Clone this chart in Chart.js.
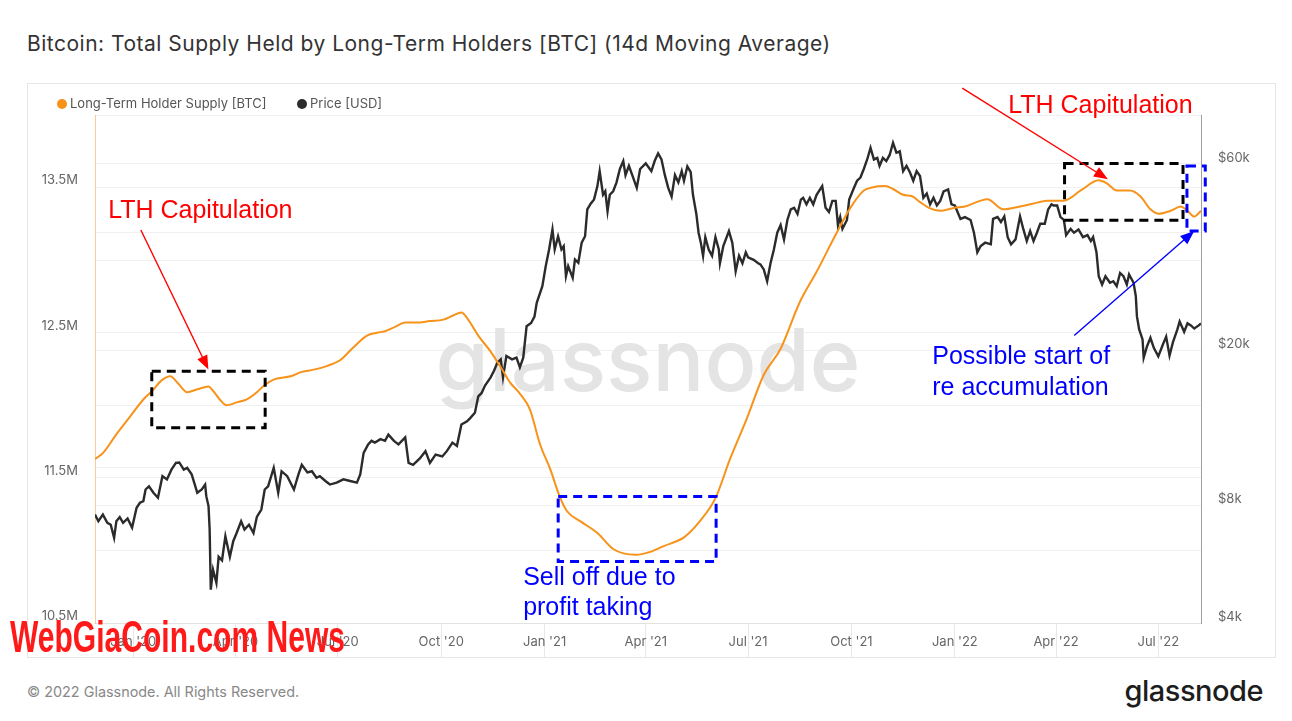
<!DOCTYPE html>
<html>
<head>
<meta charset="utf-8">
<script src="https://cdn.jsdelivr.net/npm/chart.js@4.4.1/dist/chart.umd.min.js"></script>
<style>
  html, body { margin: 0; padding: 0; background: #fff; }
  body { width: 1292px; height: 721px; position: relative; overflow: hidden; font-family: Inter, "Noto Sans", sans-serif; }
  .title { position: absolute; left: 27px; top: 31px; font-size: 21px; line-height: 26px; letter-spacing: 0.5px; color: #333; white-space: nowrap; }
  .card { position: absolute; left: 27px; top: 83px; width: 1247px; height: 573px; border: 1px solid #e6e6e6; }
  .card canvas { position: absolute; left: 0; top: 0; }
  .lg { position: absolute; top: 95px; font-size: 13px; line-height: 16px; color: #555; white-space: nowrap; }
  .dot { display: inline-block; width: 10px; height: 10px; border-radius: 50%; margin-right: 3px; vertical-align: -1px; }
  .foot { position: absolute; left: 27px; top: 683px; font-size: 14.4px; line-height: 18px; color: #888; }
  .logo { position: absolute; right: 29px; top: 673px; font-size: 29px; line-height: 36px; font-weight: 500; color: #1d1d1d; letter-spacing: -0.5px; }
  .stamp { position: absolute; left: 10px; top: 612px; font-family: "Liberation Sans Narrow", "Liberation Sans", sans-serif; font-weight: 700; font-size: 44px; line-height: 50px; color: #ff1a1a; white-space: nowrap; transform-origin: left center; }
</style>
</head>
<body>
<div class="title" id="title">Bitcoin: Total Supply Held by Long-Term Holders [BTC] (14d Moving Average)</div>
<div class="card"><canvas id="lthChart" width="1247" height="573"></canvas></div>
<div class="lg" style="left:57px"><span class="dot" style="background:#f7931a"></span>Long-Term Holder Supply [BTC]</div>
<div class="lg" style="left:297px"><span class="dot" style="background:#2b2b2b"></span>Price [USD]</div>
<div class="foot">© 2022 Glassnode. All Rights Reserved.</div>
<div class="logo">glassnode</div>
<div class="stamp" id="stamp">WebGiaCoin.com News</div>
<script>
// days counted from 1 Jan 2020
const tickDays = [0, 91, 182, 274, 366, 456, 547, 639, 731, 821, 912];
const tickLabels = ["Jan '20", "Apr '20", "Jul '20", "Oct '20", "Jan '21", "Apr '21", "Jul '21", "Oct '21", "Jan '22", "Apr '22", "Jul '22"];

const supplyTicks = [10.5, 11, 11.5, 12, 12.5, 13, 13.5, 14];
const supplyLabeled = [10.5, 11.5, 12.5, 13.5];
const priceTicks = [4000, 8000, 10000, 20000, 40000, 60000, 80000];
const priceLabeled = [4000, 8000, 20000, 60000];

// Long-term holder supply, millions of BTC
const lthDays = [-34, -27, -15, -3, 9, 17, 25, 33, 40, 48, 57, 67, 71, 77, 83, 92, 101, 110, 117, 126,
  140, 150, 157, 172, 184, 196, 208, 217, 224, 233, 242, 252, 264, 276, 285, 292, 298, 307, 318, 328,
  335, 344, 353, 362, 371, 380, 386, 398, 413, 427, 447, 460, 472, 490, 504, 518, 531, 546, 561, 576,
  593, 608, 626, 638, 650, 657, 669, 676, 685, 693, 700, 708, 718, 730, 740, 754, 760, 774, 789, 801,
  813, 828, 843, 859, 866, 875, 887, 896, 905, 912, 923, 932, 938, 944, 950];
const lthSupply = [11.63, 11.67, 11.80, 11.92, 12.04, 12.10, 12.17, 12.20, 12.15, 12.09, 12.11, 12.13, 12.10, 12.04, 12.00, 12.02, 12.04, 12.09, 12.14, 12.18,
  12.20, 12.23, 12.24, 12.27, 12.31, 12.40, 12.48, 12.50, 12.51, 12.54, 12.57, 12.57, 12.58, 12.59, 12.62, 12.64, 12.59, 12.48, 12.37, 12.25,
  12.16, 12.08, 11.97, 11.73, 11.56, 11.36, 11.27, 11.20, 11.12, 11.01, 10.97, 10.99, 11.03, 11.09, 11.20, 11.36, 11.63, 11.91, 12.21, 12.39,
  12.71, 12.92, 13.19, 13.36, 13.48, 13.50, 13.51, 13.49, 13.45, 13.44, 13.40, 13.36, 13.34, 13.36, 13.37, 13.41, 13.42, 13.35, 13.37, 13.39,
  13.41, 13.41, 13.48, 13.55, 13.53, 13.48, 13.48, 13.44, 13.35, 13.32, 13.34, 13.37, 13.34, 13.30, 13.34];

// BTC price, USD
const priceDays = [-34, -31, -27, -23, -20, -17, -15, -12, -9, -5, -1, 3, 6, 9, 11, 14, 18, 22, 26, 30,
  34, 38, 41, 45, 48, 52, 57, 61, 64, 65, 67, 68, 69, 71, 74, 76, 79, 82, 86, 89,
  92, 96, 99, 103, 107, 110, 114, 117, 120, 125, 129, 132, 137, 143, 147, 150, 155, 159, 163, 166,
  171, 175, 181, 187, 193, 199, 202, 205, 209, 212, 215, 220, 224, 227, 232, 236, 242, 245, 249, 255,
  260, 264, 269, 275, 279, 284, 288, 292, 297, 300, 304, 307, 310, 313, 318, 321, 324, 327, 329, 332,
  337, 341, 344, 347, 350, 354, 357, 359, 364, 367, 370, 373, 375, 378, 381, 383, 385, 387, 391, 393,
  396, 399, 402, 404, 407, 410, 413, 415, 418, 420, 422, 424, 427, 430, 433, 436, 438, 441, 444, 448,
  451, 456, 458, 461, 464, 467, 470, 473, 476, 479, 482, 485, 488, 490, 493, 496, 498, 501, 503, 505,
  507, 509, 512, 515, 518, 521, 522, 525, 530, 533, 536, 539, 542, 545, 547, 552, 556, 558, 561, 564,
  567, 570, 573, 576, 579, 582, 585, 588, 591, 594, 596, 599, 602, 605, 608, 613, 616, 619, 622, 625,
  627, 629, 631, 635, 637, 641, 644, 647, 650, 653, 656, 659, 662, 664, 667, 670, 673, 676, 679, 682,
  685, 688, 691, 694, 697, 700, 703, 706, 709, 712, 715, 718, 721, 725, 728, 731, 736, 740, 745, 748,
  751, 754, 758, 763, 765, 769, 772, 775, 778, 781, 785, 789, 792, 795, 798, 801, 804, 807, 811, 814,
  817, 819, 822, 825, 828, 830, 834, 837, 841, 845, 849, 852, 854, 857, 859, 862, 865, 869, 872, 875,
  878, 881, 884, 886, 890, 892, 893, 895, 898, 899, 902, 905, 908, 912, 916, 919, 922, 925, 929, 931,
  935, 938, 941, 944, 948, 950];
const priceUsd = [7580, 7290, 7580, 7220, 7140, 6610, 7290, 7470, 7220, 7410, 7020, 7890, 8130, 8210, 8790, 8960, 8620, 8370, 9510, 9330,
  9880, 10280, 10310, 9880, 9990, 9610, 8620, 8790, 9050, 8450, 7970, 6940, 4870, 5480, 5070, 5910, 5790, 6670, 5910, 6480,
  6800, 7290, 6940, 7140, 6800, 7480, 7810, 8790, 8960, 9990, 8620, 9790, 9510, 8790, 9610, 10170, 9720, 9790, 9420, 9510,
  9240, 9050, 9150, 9330, 9240, 9150, 9610, 10910, 11470, 11710, 11590, 11830, 11710, 12150, 11710, 11470, 11950, 10280, 10170, 10560,
  11020, 10280, 10800, 10680, 11020, 11590, 11370, 12890, 13140, 13410, 13820, 15230, 15530, 16230, 17030, 17700, 18580, 18940, 17030, 19310,
  18940, 19130, 18060, 19130, 23020, 23460, 24360, 26430, 29150, 32800, 36200, 40730, 36200, 39130, 36200, 36910, 30920, 32800, 30620, 34120,
  33480, 37700, 39130, 45830, 47420, 48640, 52590, 57430, 49980, 51020, 45360, 49980, 51020, 53770, 58180, 60960, 56110, 59290, 56110, 52060,
  58180, 60140, 59070, 57450, 61070, 63760, 61550, 56110, 52060, 49410, 56110, 53770, 57450, 54290, 59070, 57090, 49980, 44630, 39960, 37680,
  34860, 38930, 36200, 34860, 38930, 36200, 33370, 36950, 40340, 37680, 31850, 34860, 33370, 35600, 34570, 34050, 33370, 33160, 32180, 30020,
  33370, 36200, 39960, 41790, 38410, 43080, 45840, 46290, 44630, 48580, 49100, 47230, 49100, 47230, 49980, 52590, 46290, 45150, 48210, 48210,
  41790, 43820, 40870, 43080, 48580, 51850, 54290, 55330, 58180, 61550, 65960, 61550, 62110, 59290, 62110, 60960, 63210, 67920, 64040, 64580,
  57450, 59290, 57090, 54290, 57450, 55840, 49100, 50340, 47230, 49100, 46920, 48210, 51020, 51590, 47230, 46920, 43360, 43820, 43080, 39960,
  35600, 36950, 37680, 37320, 43360, 43820, 42560, 44010, 38930, 37320, 38410, 44010, 40740, 38040, 40340, 38040, 39960, 42140, 42140, 45840,
  47230, 46920, 46920, 43820, 43080, 39390, 40870, 39960, 40740, 38930, 39390, 38040, 38930, 35600, 30920, 29440, 30920, 29740, 30020, 29150,
  31520, 30920, 29440, 31240, 29740, 27480, 24390, 22590, 21290, 19110, 20460, 21500, 20260, 19270, 20640, 21650, 19350, 20920, 22590, 23670,
  22270, 23410, 23130, 22710, 23130, 23410];

// annotations, anchored in data space (day, supply in M)
const noteBoxes = [
  { x0: 16.5, x1: 117.4, y0: 12.235, y1: 11.845, color: '#000' },
  { x0: 378.1, x1: 518.6, y0: 11.371, y1: 10.923, color: '#0000ff' },
  { x0: 828.6, x1: 934.0, y0: 13.666, y1: 13.274, color: '#000' },
  { x0: 937.5, x1: 953.8, y0: 13.649, y1: 13.201, color: '#0000ff' }
];
const noteArrows = [
  { x0: 6.8, y0: 13.208, x1: 66.9, y1: 12.247, color: '#ff0000' },
  { x0: 737.6, y0: 14.185, x1: 867.2, y1: 13.557, color: '#ff0000' },
  { x0: 837.2, y0: 12.481, x1: 944.0, y1: 13.201, color: '#0000ff' }
];
const noteTexts = [
  { x: -22.3, y: 13.336, text: 'LTH Capitulation', color: '#ff0000' },
  { x: 778.5, y: 14.061, text: 'LTH Capitulation', color: '#ff0000' },
  { x: 346.9, y: 10.812, text: 'Sell off due to', color: '#0000ff' },
  { x: 346.9, y: 10.605, text: 'profit taking', color: '#0000ff' },
  { x: 710.9, y: 12.330, text: 'Possible start of', color: '#0000ff' },
  { x: 710.9, y: 12.116, text: 're accumulation', color: '#0000ff' }
];

const watermark = {
  id: 'watermark',
  beforeDatasetsDraw(chart) {
    const { ctx, chartArea: a } = chart;
    ctx.save();
    ctx.font = '500 88px Inter';
    const w = ctx.measureText('glassnode').width;
    const size = 88 * 425 / w;
    ctx.font = '500 ' + size + 'px Inter';
    ctx.fillStyle = '#e4e4e4';
    ctx.textAlign = 'center';
    ctx.textBaseline = 'middle';
    ctx.fillText('glassnode', (a.left + a.right) / 2, (a.top + a.bottom) / 2 - 4);
    ctx.restore();
  }
};

const notes = {
  id: 'notes',
  afterDatasetsDraw(chart) {
    const { ctx } = chart;
    const x = chart.scales.x, y = chart.scales.y;
    ctx.save();
    ctx.lineWidth = 3;
    ctx.setLineDash([9, 6]);
    noteBoxes.forEach(b => {
      ctx.strokeStyle = b.color;
      const px0 = x.getPixelForValue(b.x0), px1 = x.getPixelForValue(b.x1);
      const py0 = y.getPixelForValue(b.y0), py1 = y.getPixelForValue(b.y1);
      ctx.strokeRect(px0, py0, px1 - px0, py1 - py0);
    });
    ctx.setLineDash([]);
    noteArrows.forEach(n => {
      const ax = x.getPixelForValue(n.x0), ay = y.getPixelForValue(n.y0);
      const bx = x.getPixelForValue(n.x1), by = y.getPixelForValue(n.y1);
      const ang = Math.atan2(by - ay, bx - ax);
      ctx.strokeStyle = n.color;
      ctx.fillStyle = n.color;
      ctx.lineWidth = 1.4;
      ctx.beginPath();
      ctx.moveTo(ax, ay);
      ctx.lineTo(bx - 10 * Math.cos(ang), by - 10 * Math.sin(ang));
      ctx.stroke();
      ctx.beginPath();
      ctx.moveTo(bx, by);
      ctx.lineTo(bx - 14 * Math.cos(ang) + 5.5 * Math.sin(ang), by - 14 * Math.sin(ang) - 5.5 * Math.cos(ang));
      ctx.lineTo(bx - 14 * Math.cos(ang) - 5.5 * Math.sin(ang), by - 14 * Math.sin(ang) + 5.5 * Math.cos(ang));
      ctx.closePath();
      ctx.fill();
    });
    ctx.font = '25px "Liberation Sans", Arial, sans-serif';
    ctx.textAlign = 'left';
    ctx.textBaseline = 'middle';
    noteTexts.forEach(t => {
      ctx.fillStyle = t.color;
      ctx.fillText(t.text, x.getPixelForValue(t.x), y.getPixelForValue(t.y));
    });
    ctx.restore();
  }
};

Chart.defaults.font.family = 'Inter';
Chart.defaults.font.size = 13;
Chart.defaults.color = '#666';

new Chart(document.getElementById('lthChart'), {
  type: 'line',
  data: {
    datasets: [{
      label: 'Long-Term Holder Supply [BTC]',
      data: lthDays.map((d, i) => ({ x: d, y: lthSupply[i] })),
      yAxisID: 'y',
      borderColor: '#f7931a',
      borderWidth: 2,
      pointRadius: 0,
      cubicInterpolationMode: 'monotone'
    }, {
      label: 'Price [USD]',
      data: priceDays.map((d, i) => ({ x: d, y: priceUsd[i] })),
      yAxisID: 'y1',
      borderColor: '#2b2b2b',
      borderWidth: 2.4,
      pointRadius: 0,
      tension: 0
    }]
  },
  options: {
    responsive: false,
    animation: false,
    devicePixelRatio: 1,
    layout: { padding: { top: 31, left: 0, right: 0, bottom: 0 } },
    plugins: { legend: { display: false }, tooltip: { enabled: false } },
    scales: {
      x: {
        type: 'linear',
        min: -34,
        max: 950,
        afterBuildTicks: s => { s.ticks = tickDays.map(v => ({ value: v })); },
        afterFit: s => { s.height = 34; },
        grid: { drawOnChartArea: false, tickLength: 34, color: '#e8e8e8' },
        border: { color: '#e2e2e2' },
        ticks: {
          autoSkip: false,
          maxRotation: 0,
          padding: -23,
          callback: v => tickLabels[tickDays.indexOf(v)] || ''
        }
      },
      y: {
        type: 'linear',
        position: 'left',
        min: 10.5,
        max: 14,
        afterBuildTicks: s => { s.ticks = supplyTicks.map(v => ({ value: v })); },
        afterFit: s => { s.width = 67; },
        grid: { color: '#f0f0f0', drawTicks: false },
        border: { color: 'rgba(247,147,26,0.45)' },
        ticks: {
          padding: 17,
          labelOffset: -7,
          callback: v => supplyLabeled.includes(v) ? v + 'M' : ''
        }
      },
      y1: {
        type: 'logarithmic',
        position: 'right',
        min: 4000,
        max: 80000,
        afterBuildTicks: s => { s.ticks = priceTicks.map(v => ({ value: v })); },
        afterFit: s => { s.width = 74; },
        grid: { color: '#f0f0f0', drawTicks: false },
        border: { color: '#a0a0a0' },
        ticks: {
          padding: 17,
          labelOffset: -6,
          callback: v => priceLabeled.includes(v) ? '$' + (v / 1000) + 'k' : ''
        }
      }
    }
  },
  plugins: [watermark, notes]
});

// squeeze the overlay stamp to its width in the picture
const stamp = document.getElementById('stamp');
stamp.style.transform = 'scaleX(' + (335 / stamp.getBoundingClientRect().width) + ')';
</script>
</body>
</html>
